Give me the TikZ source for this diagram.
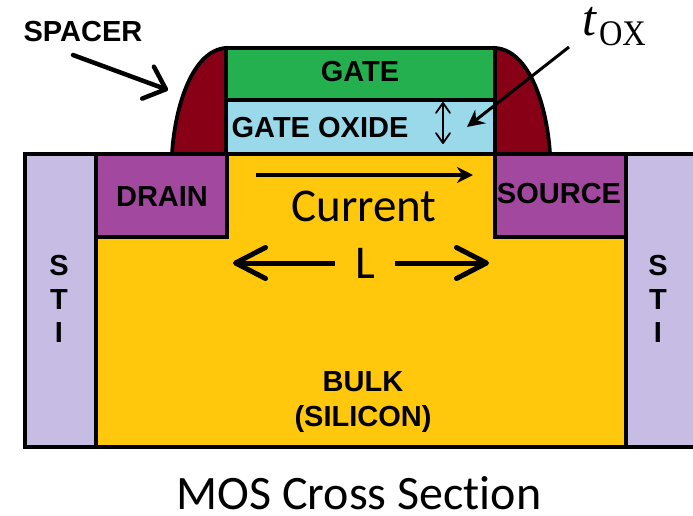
\documentclass[tikz,border=0pt]{standalone}
\usepackage{fontspec}
\setmainfont{Carlito}[Ligatures=CommonOff]
\newfontfamily\lblfont{Liberation Sans}[BoldFont={Liberation Sans Bold}]
\newfontfamily\symfont{Liberation Serif}
\usepackage{xcolor}
\usetikzlibrary{arrows.meta,positioning,calc}
\definecolor{gategreen}{HTML}{25B04F}
\definecolor{oxideblue}{HTML}{9AD9EA}
\definecolor{bulkyellow}{HTML}{FFC80D}
\definecolor{wellpurple}{HTML}{A2489E}
\definecolor{stililac}{HTML}{C6BCE4}
\definecolor{spacerred}{HTML}{880015}

\begin{document}
\begin{tikzpicture}[
  x=1pt, y=-1pt,
  region/.style={draw=black, line width=3.8pt, miter limit=10},
  lbl/.style={font=\lblfont\bfseries\fontsize{29}{32}\selectfont, align=center, inner sep=0pt},
  big/.style={font=\fontsize{47}{50}\selectfont, inner sep=0pt},
  thin arrow/.style={-{Stealth[length=17pt,width=17pt]}, line width=3pt},
  smallbarb/.style={{Straight Barb[round,length=10pt,width=14pt]}-{Straight Barb[round,length=10pt,width=14pt]}, line width=1.8pt},
  spacer arrow/.style={-{Straight Barb[round,length=19pt,width=34pt]}, line width=4.5pt, line cap=round},
  wide barb/.style={-{Straight Barb[round,length=30pt,width=31pt]}, line width=5pt},
]
\useasboundingbox (0,0) rectangle (693,515);

% substrate
\fill[bulkyellow] (25,154) rectangle (693,447);
\draw[region] (693,154) -- (25,154) -- (25,447) -- (693,447);

% spacers
\draw[region, fill=spacerred] (172,154) .. controls (175,105) and (193,50) .. (226,48) -- (226,154) -- cycle;
\draw[region, fill=spacerred] (550,154) .. controls (547,105) and (529,50) .. (495,48) -- (495,154) -- cycle;

% gate stack
\node[region, fill=gategreen, minimum width=269pt, minimum height=52pt, inner sep=0pt, outer sep=0pt] (gate) at (360.5,74) {};
\node[region, fill=oxideblue, minimum width=269pt, minimum height=54pt, inner sep=0pt, outer sep=0pt] (oxide) at (360.5,127) {};
\node[lbl] (gatelbl) at (360,72) {GATE};
\node[lbl] (oxidelbl) at (320,128) {GATE OXIDE};

% drain and source
\draw[region, fill=wellpurple] (96,154) rectangle (227,237);
\draw[region, fill=wellpurple] (495,154) rectangle (626,237);
\node[lbl] (drain) at (162,197) {DRAIN};
\node[lbl] (source) at (559,194) {SOURCE};

% sti
\draw[region, fill=stililac] (25,154) rectangle (96,447);
\draw[region, fill=stililac] (626,154) rectangle (697,447);
\node[lbl] (stil) at (59,299) {S\\[1.5pt]T\\[1.5pt]I};
\node[lbl] (stir) at (658,299) {S\\[1.5pt]T\\[1.5pt]I};

\node[lbl] (bulk) at (363,402) {BULK\\[3pt](SILICON)};

% spacer label
\node[lbl] (spacer) at (83,32) {SPACER};
\coordinate (sptail) at (73,55);
\coordinate (sptip) at (168,90);
\draw[spacer arrow] (sptail) -- (sptip);

% oxide thickness
\node[inner sep=0pt, font=\symfont\fontsize{50}{52}\selectfont] (tox) at (614,27) {\textit{t}\kern2pt\raisebox{-10pt}{\scalebox{0.9}[1]{\fontsize{36}{38}\selectfont OX}}};
\coordinate (toxtail) at (569,47);
\coordinate (toxtip) at (467,127);
\draw[thin arrow] (toxtail) -- (toxtip);
\coordinate (oxtop) at (443,102);
\coordinate (oxbot) at (443,144);
\draw[smallbarb] (oxtop) -- (oxbot);

% channel
\coordinate (curtail) at (256,175);
\coordinate (curtip) at (473,175);
\draw[-{Stealth[length=16pt,width=16pt]}, line width=3.2pt] (curtail) -- (curtip);
\node[big] (current) at (364,206) {Current};
\node[big] (len) at (365,263) {L};
\coordinate (lleft) at (233,263);
\coordinate (lright) at (489,263);
\draw[wide barb] (335,263) -- (lleft);
\draw[wide barb] (395,263) -- (lright);

\node[big, font=\fontsize{48}{50}\selectfont] (title) at (359,493) {MOS Cross Section};
\end{tikzpicture}
\end{document}
